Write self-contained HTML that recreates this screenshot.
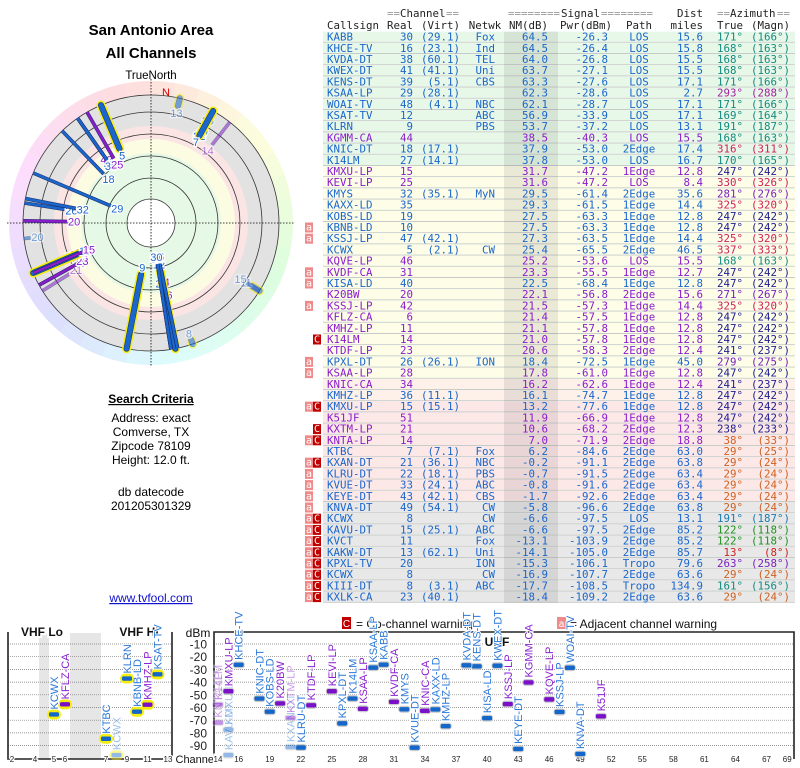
<!DOCTYPE html>
<html><head><meta charset="utf-8">
<style>
body{margin:0;background:#fff;width:800px;height:768px;overflow:hidden}
svg{display:block}
</style></head><body>
<svg id="s" width="800" height="768" xmlns="http://www.w3.org/2000/svg">
<g font-family="Liberation Sans, sans-serif" text-anchor="middle">
<text x="151" y="35" font-size="15" font-weight="bold">San Antonio Area</text>
<text x="151" y="58" font-size="15" font-weight="bold">All Channels</text>
<text x="151" y="79" font-size="11.5">TrueNorth</text>
<text x="151" y="403" font-size="12" font-weight="bold" text-decoration="underline">Search Criteria</text>
<text x="151" y="422" font-size="12">Address: exact</text>
<text x="151" y="436" font-size="12">Comverse, TX</text>
<text x="151" y="450" font-size="12">Zipcode 78109</text>
<text x="151" y="464" font-size="12">Height: 12.0 ft.</text>
<text x="151" y="496" font-size="12">db datecode</text>
<text x="151" y="510" font-size="12">201205301329</text>
<text x="151" y="602" font-size="12" fill="#1010d0" text-decoration="underline">www.tvfool.com</text>
</g>
<g id="polar"></g>
<g id="table"></g>
<g id="bottom"></g>
</svg>
<script>
// Station data (from table)
const badges=['','','','','','','','','','','','','','','','','','a','a','','','a','a','','a','','','C','','a','a','','','aC','','C','aC','','aC','a','a','a','a','aC','aC','aC','aC','aC','aC','aC','aC'];
const calls=['KABB','KHCE-TV','KVDA-DT','KWEX-DT','KENS-DT','KSAA-LP','WOAI-TV','KSAT-TV','KLRN','KGMM-CA','KNIC-DT','K14LM','KMXU-LP','KEVI-LP','KMYS','KAXX-LD','KOBS-LD','KBNB-LD','KSSJ-LP','KCWX','KQVE-LP','KVDF-CA','KISA-LD','K20BW','KSSJ-LP','KFLZ-CA','KMHZ-LP','K14LM','KTDF-LP','KPXL-DT','KSAA-LP','KNIC-CA','KMHZ-LP','KMXU-LP','K51JF','KXTM-LP','KNTA-LP','KTBC','KXAN-DT','KLRU-DT','KVUE-DT','KEYE-DT','KNVA-DT','KCWX','KAVU-DT','KVCT','KAKW-DT','KPXL-TV','KCWX','KIII-DT','KXLK-CA'];
const realCh=[30,16,38,41,39,29,48,12,9,44,18,27,15,25,32,35,19,10,47,5,46,31,40,20,42,6,11,14,23,26,28,34,36,15,51,21,14,7,21,22,33,43,49,8,15,11,13,20,8,8,23];
const virtCh=['(29.1)','(23.1)','(60.1)','(41.1)','(5.1)','(28.1)','(4.1)','','','','(17.1)','(14.1)','','','(35.1)','','','','(42.1)','(2.1)','','','','','','','','','','(26.1)','','','(11.1)','(15.1)','','','','(7.1)','(36.1)','(18.1)','(24.1)','(42.1)','(54.1)','','(25.1)','','(62.1)','','','(3.1)','(40.1)'];
const networks=['Fox','Ind','TEL','Uni','CBS','','NBC','ABC','PBS','','','','','','MyN','','','','','CW','','','','','','','','','','ION','','','','','','','','Fox','NBC','PBS','ABC','CBS','CW','CW','ABC','Fox','Uni','ION','CW','ABC',''];
const nmDb=[64.5,64.5,64.0,63.7,63.3,62.3,62.1,56.9,53.7,38.5,37.9,37.8,31.7,31.6,29.5,29.3,27.5,27.5,27.3,25.4,25.2,23.3,22.5,22.1,21.5,21.4,21.1,21.0,20.6,18.4,17.8,16.2,16.1,13.2,11.9,10.6,7.0,6.2,-0.2,-0.7,-0.8,-1.7,-5.8,-6.6,-6.6,-13.1,-14.1,-15.3,-16.9,-17.7,-18.4];
const pwrDbm=[-26.3,-26.4,-26.8,-27.1,-27.6,-28.6,-28.7,-33.9,-37.2,-40.3,-53.0,-53.0,-47.2,-47.2,-61.4,-61.5,-63.3,-63.3,-63.5,-65.5,-53.6,-55.5,-68.4,-56.8,-57.3,-57.5,-57.8,-57.8,-58.3,-72.5,-61.0,-62.6,-74.7,-77.6,-66.9,-68.2,-71.9,-84.6,-91.1,-91.5,-91.6,-92.6,-96.6,-97.5,-97.5,-103.9,-105.0,-106.1,-107.7,-108.5,-109.2];
const paths=['LOS','LOS','LOS','LOS','LOS','LOS','LOS','LOS','LOS','LOS','2Edge','LOS','1Edge','LOS','2Edge','1Edge','1Edge','1Edge','1Edge','2Edge','LOS','1Edge','1Edge','2Edge','1Edge','1Edge','1Edge','1Edge','2Edge','1Edge','1Edge','1Edge','1Edge','1Edge','1Edge','2Edge','2Edge','2Edge','2Edge','2Edge','2Edge','2Edge','2Edge','LOS','2Edge','2Edge','2Edge','Tropo','2Edge','Tropo','2Edge'];
const distMi=[15.6,15.8,15.5,15.5,17.1,2.7,17.1,17.1,13.1,15.5,17.4,16.7,12.8,8.4,35.6,14.4,12.8,12.8,14.4,46.5,15.5,12.7,12.8,15.6,14.4,12.8,12.8,12.8,12.4,45.0,12.8,12.4,12.8,12.8,12.8,12.3,18.8,63.0,63.8,63.4,63.4,63.4,63.8,13.1,85.2,85.2,85.7,79.6,63.6,134.9,63.6];
const azTrue=[171,168,168,168,171,293,171,169,191,168,316,170,247,330,281,325,247,247,325,337,168,247,247,271,325,247,247,247,241,279,247,241,247,247,247,238,38,29,29,29,29,29,29,191,122,122,13,263,29,161,29];
const azMagn=[166,163,163,163,166,288,166,164,187,163,311,165,242,326,276,320,242,242,320,333,163,242,242,267,320,242,242,242,237,275,242,237,242,242,242,233,33,25,24,24,24,24,24,187,118,118,8,258,24,156,24];
const colorKey='bbbbbbbbbpbbppbbbbbbppbppppppbppbbpppbbbbbbbbbbbbbb';
const azColorKey=['t','t','t','t','t','m','t','t','t','t','r','t','n','r','v','r','n','n','r','r','t','n','n','v','r','n','n','n','n','v','n','n','n','n','n','n','o','o','o','o','o','o','o','c','g','g','x','v','o','t','o'];

const NS='http://www.w3.org/2000/svg';
function mk(tag,attrs,parent,txt){const e=document.createElementNS(NS,tag);for(const k in attrs)e.setAttribute(k,attrs[k]);if(txt!==undefined)e.textContent=txt;parent.appendChild(e);return e;}
const COL={b:'#1a66cc',p:'#8a1ccc'};
const AZC={t:'#138a80',m:'#a020a0',r:'#d0205a',n:'#202090',v:'#7a20c0',o:'#d06020',c:'#1a7ab0',g:'#209020',x:'#d02020'};
const MONO='DejaVu Sans Mono, Liberation Mono, monospace', MFS='10.8';

// ---------- TABLE ----------
const T=document.getElementById('table');
const RH=11.2, TOP=31.6;
function rowBg(i){if(i<12)return'#e8f8e8';if(i<31)return'#fdfde8';if(i<33)return'#fdf1ea';if(i<42)return'#fde8e8';return'#e8e8e8';}
const hdr=mk('g',{'font-family':MONO,'font-size':MFS,'fill':'#222'},T);

function ht(x,y,s,anchor,fill){const e=mk('text',{x:x,y:y,'text-anchor':anchor||'start',fill:fill||'#222'},hdr,s);return e;}
ht(387,17,'==','start','#999');ht(400,17,'Channel');ht(446,17,'==','start','#999');
ht(508,17,'========','start','#999');ht(561,17,'Signal');ht(601,17,'========','start','#999');
ht(703,17,'Dist','end');
ht(717,17,'==','start','#999');ht(730,17,'Azimuth');ht(777,17,'==','start','#999');
ht(327,29,'Callsign');ht(413,29,'Real','end');ht(460,29,'(Virt)','end');ht(485,29,'Netwk','middle');
ht(548,29,'NM(dB)','end');ht(612,29,'Pwr(dBm)','end');ht(639,29,'Path','middle');ht(703,29,'miles','end');ht(743,29,'True','end');ht(790,29,'(Magn)','end');
for(let i=0;i<calls.length;i++){
  const y=TOP+i*RH;
  const g=mk('g',{'font-family':MONO,'font-size':MFS},T);
  
  mk('rect',{x:323,y:y,width:472,height:RH-1,fill:rowBg(i)},g);
  mk('rect',{x:323,y:y+RH-1,width:472,height:1,fill:'#c8ccc8'},g);
  mk('rect',{x:504,y:y,width:54,height:RH,fill:'rgba(0,0,0,0.08)'},g);
  const b=badges[i];
  if(b.includes('a')){mk('rect',{x:305,y:y+0.5,width:8,height:10,fill:'#f08a8a'},g);const t=mk('text',{x:309,y:y+8.5,'text-anchor':'middle',fill:'#fff','font-size':'10'},g,'a');}
  if(b.includes('C')){mk('rect',{x:313,y:y+0.5,width:8,height:10,fill:'#c00000'},g);const t=mk('text',{x:317,y:y+8.5,'text-anchor':'middle',fill:'#fff','font-size':'10'},g,'C');}
  const c=COL[colorKey[i]], ac=AZC[azColorKey[i]], by=y+9;
  mk('text',{x:327,y:by,fill:c},g,calls[i]);
  mk('text',{x:413,y:by,fill:c,'text-anchor':'end'},g,String(realCh[i]));
  mk('text',{x:460,y:by,fill:c,'text-anchor':'end'},g,virtCh[i]);
  mk('text',{x:495,y:by,fill:c,'text-anchor':'end'},g,networks[i]);
  mk('text',{x:548,y:by,fill:c,'text-anchor':'end'},g,nmDb[i].toFixed(1));
  mk('text',{x:608,y:by,fill:c,'text-anchor':'end'},g,pwrDbm[i].toFixed(1));
  mk('text',{x:639,y:by,fill:c,'text-anchor':'middle'},g,paths[i]);
  mk('text',{x:703,y:by,fill:c,'text-anchor':'end'},g,distMi[i].toFixed(1));
  mk('text',{x:743,y:by,fill:ac,'text-anchor':'end'},g,azTrue[i]+'°');
  mk('text',{x:790,y:by,fill:ac,'text-anchor':'end'},g,'('+azMagn[i]+'°)');
}

// ---------- POLAR ----------
const P=document.getElementById('polar');
const CX=151, CY=223, RIM=128, ROUT=142;
function pt(az,r){const a=az*Math.PI/180;return [CX+r*Math.sin(a),CY-r*Math.cos(a)];}
for(let a=0;a<360;a+=10){
  const p1=pt(a,ROUT),p2=pt(a+10,ROUT),p3=pt(a+10,RIM),p4=pt(a,RIM);
  const hue=(a+15)%360;
  const w=mk('path',{d:`M${p1}A${ROUT},${ROUT} 0 0 1 ${p2}L${p3}A${RIM},${RIM} 0 0 0 ${p4}Z`,fill:`hsl(${hue},90%,93%)`},P);
  
}
[[128,'#e2e2e2'],[97,'#fbe4e4'],[84,'#fcfce2'],[70,'#e6f8e6'],[24,'#ffffff']].forEach(([r,f])=>{const c=mk('circle',{cx:CX,cy:CY,r:r,fill:f},P);});
[24,45,67,89,111,128].forEach(r=>{const c=mk('circle',{cx:CX,cy:CY,r:r,fill:'none',stroke:'#333','stroke-width':'0.8'},P);});
mk('line',{x1:CX,y1:CY-ROUT-2,x2:CX,y2:CY+ROUT+2,stroke:'#000','stroke-width':'0.8','stroke-dasharray':'1.5,1.5'},P);
mk('line',{x1:CX-ROUT-2,y1:CY,x2:CX+ROUT+2,y2:CY,stroke:'#000','stroke-width':'0.8','stroke-dasharray':'1.5,1.5'},P);
mk('text',{x:166,y:96,'font-family':'Liberation Sans, sans-serif','font-size':'11',fill:'#d00000','text-anchor':'middle'},P,'N');
function nmToR(nm){return Math.max(RIM-(nm+22)*1.0,26);}
const pl=mk('g',{},P);
const order=[...calls.keys()].reverse();
for(const i of order){
  const r0=nmToR(nmDb[i]);const a=pt(azTrue[i],r0),b=pt(azTrue[i],RIM);
  const vhf=realCh[i]<=13, faded=badges[i].includes('C');
  const g=mk('g',{opacity:faded?0.55:1},pl);
  
  
  if(vhf)mk('line',{x1:a[0],y1:a[1],x2:b[0],y2:b[1],stroke:'#f4ee10','stroke-width':'9','stroke-linecap':'round'},g);
  mk('line',{x1:a[0],y1:a[1],x2:b[0],y2:b[1],stroke:'#1a2a60','stroke-width':vhf?'6':'3.6','stroke-linecap':vhf?'round':'butt'},g);
  mk('line',{x1:a[0],y1:a[1],x2:b[0],y2:b[1],stroke:COL[colorKey[i]],'stroke-width':vhf?'5':'2.6','stroke-linecap':vhf?'round':'butt'},g);
  const l=pt(azTrue[i],r0-7);
  mk('text',{x:l[0],y:l[1]+4,'text-anchor':'middle','font-family':'Liberation Sans, sans-serif','font-size':'11',fill:COL[colorKey[i]],stroke:'#fff','stroke-width':'2.5','paint-order':'stroke'},g,String(realCh[i]));
}

// ---------- BOTTOM CHART ----------
const B=document.getElementById('bottom');
const dbTicks=[-10,-20,-30,-40,-50,-60,-70,-80,-90];
const vhfTicks=[2,4,5,6,7,9,11,13];
const uhfTicks=[14,16,19,22,25,28,31,34,37,40,43,46,49,52,55,58,61,64,67,69];
function yDb(d){return 631.3+(-d)*1.27;}
const vhfPos={2:12,3:23,4:35,5:54,6:65,7:106,8:116.5,9:127,10:137,11:147.5,12:157.5,13:168};
function xCh(ch){return ch<=13?vhfPos[ch]:218+(ch-14)*10.35;}
const bf='Liberation Sans, sans-serif';
mk('rect',{x:39,y:633,width:10,height:126,fill:'#e6e6e6'},B);
mk('rect',{x:70,y:633,width:31,height:126,fill:'#e6e6e6'},B);
dbTicks.forEach(d=>{
  const y=yDb(d);
  mk('line',{x1:8,y1:y,x2:172,y2:y,stroke:'#777','stroke-width':'0.7','stroke-dasharray':'1,1'},B);
  mk('line',{x1:214,y1:y,x2:794,y2:y,stroke:'#777','stroke-width':'0.7','stroke-dasharray':'1,1'},B);
  const t=mk('text',{x:207,y:y+4.5,'text-anchor':'end','font-family':bf,'font-size':'12',fill:'#222'},B,String(d));
  
});
mk('path',{d:'M8,632V759H172V632',fill:'none',stroke:'#222','stroke-width':'1.6'},B);
mk('path',{d:'M214,759V632H794V759',fill:'none',stroke:'#222','stroke-width':'1.6'},B);
[['VHF Lo',42,636],['VHF Hi',139,636],['UHF',497,646]].forEach(([s,x,y])=>{const t=mk('text',{x:x,y:y,'text-anchor':'middle','font-family':bf,'font-size':'12','font-weight':'bold',fill:'#111',stroke:'#fff','stroke-width':'4','paint-order':'stroke'},B,s);});
mk('text',{x:198,y:637,'text-anchor':'middle','font-family':bf,'font-size':'12',fill:'#111'},B,'dBm');
mk('text',{x:196,y:763,'text-anchor':'middle','font-family':bf,'font-size':'11',fill:'#111',stroke:'#fff','stroke-width':'3','paint-order':'stroke'},B,'Channel');
vhfTicks.concat(uhfTicks).forEach(ch=>{const t=mk('text',{x:xCh(ch),y:762,'text-anchor':'middle','font-family':bf,'font-size':'8',fill:'#222',stroke:'#fff','stroke-width':'2.5','paint-order':'stroke'},B,String(ch));});
// legend
mk('rect',{x:342,y:617,width:9,height:12,fill:'#c00000'},B);
mk('text',{x:346.5,y:627,'text-anchor':'middle','font-family':bf,'font-size':'10',fill:'#fff'},B,'C');
mk('text',{x:356,y:628,'font-family':bf,'font-size':'12',fill:'#111'},B,'= Co-channel warning');
mk('rect',{x:557,y:617,width:9,height:12,fill:'#f08a8a'},B);
mk('text',{x:561.5,y:627,'text-anchor':'middle','font-family':bf,'font-size':'10',fill:'#fff'},B,'a');
mk('text',{x:570,y:628,'font-family':bf,'font-size':'12',fill:'#111'},B,'= Adjacent channel warning');
const bars=mk('g',{},B);
for(const i of order){
  if(pwrDbm[i]<-100)continue;
  const x=xCh(realCh[i]), y=yDb(pwrDbm[i]);
  const vhf=realCh[i]<=13, faded=badges[i].includes('C');
  const g=mk('g',{opacity:faded?0.45:1},bars);
  
  
  if(vhf)mk('rect',{x:x-7,y:y-5,width:14,height:10,rx:5,fill:'#f4ee10'},g);
  else mk('rect',{x:x-6,y:y-3.5,width:12,height:7,rx:3,fill:'#ccc'},g);
  mk('rect',{x:x-5,y:y-2.2,width:10,height:4.4,rx:1.5,fill:colorKey[i]==='b'?'#1466c8':'#7a10c8'},g);
  mk('text',{x:x+4,y:y-5,transform:`rotate(-90 ${x+4} ${y-5})`,'font-family':bf,'font-size':'11',fill:colorKey[i]==='b'?'#2a78d8':'#8a20d0',stroke:'#fff','stroke-width':'2','paint-order':'stroke'},g,calls[i]);
}
</script>
</body></html>
